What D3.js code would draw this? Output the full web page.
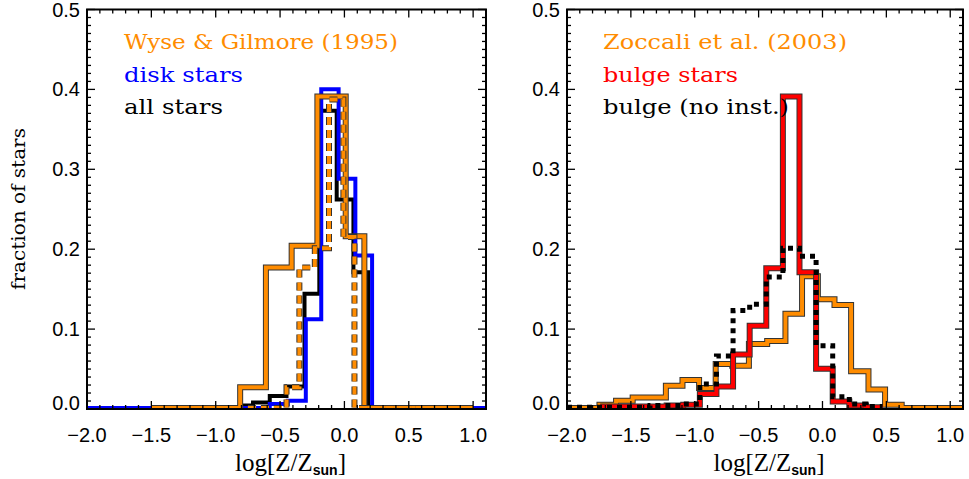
<!DOCTYPE html>
<html>
<head>
<meta charset="utf-8">
<script src="https://cdn.jsdelivr.net/npm/d3@7"></script>
<style>
  html, body { margin: 0; padding: 0; background: #fff; }
  svg { display: block; }
</style>
</head>
<body>
<svg id="chart" width="969" height="479"></svg>
<script>
// ---------------- data ----------------
const xTickValues = [-2.0, -1.5, -1.0, -0.5, 0.0, 0.5, 1.0];
const xTickLabels = ["\u22122.0", "\u22121.5", "\u22121.0", "\u22120.5", "0.0", "0.5", "1.0"];
const yTickValues = [0.0, 0.1, 0.2, 0.3, 0.4, 0.5];
const yTickLabels = ["0.0", "0.1", "0.2", "0.3", "0.4", "0.5"];

// Left panel: disk stars (blue)
const diskEdges  = [-2.0, -0.58, -0.44, -0.30, -0.18, -0.045, 0.085, 0.215, 1.1];
const diskValues = [0, 0.005, 0.009, 0.111, 0.399, 0.287, 0.191, 0];
// Left panel: all stars (black)
const allEdges  = [-2.0, -0.79, -0.71, -0.58, -0.45, -0.31, -0.195, -0.06, 0.07, 0.185, 1.1];
const allValues = [0, 0.003, 0.007, 0.015, 0.027, 0.143, 0.372, 0.261, 0.17, 0];
// Left panel: Wyse & Gilmore (1995), solid orange
const wgEdges  = [-1.5, -0.81, -0.61, -0.41, -0.21, 0.01, 0.155, 1.0];
const wgValues = [0, 0.026, 0.176, 0.203, 0.39, 0.215, 0];
// Left panel: Wyse & Gilmore (1995), dashed orange
const wgDashEdges  = [-0.75, -0.45, -0.35, -0.23, -0.12, -0.008, 0.078, 0.55];
const wgDashValues = [0, 0.026, 0.176, 0.2, 0.386, 0.214, 0];

// Right panel: Zoccali et al. (2003), solid orange
const zocEdges  = [-2.0, -1.746, -1.616, -1.486, -1.226, -1.096, -0.966, -0.836, -0.706, -0.576, -0.433, -0.29, -0.16, -0.036, 0.094, 0.224, 0.36, 0.49, 0.62, 1.1];
const zocValues = [0, 0.004, 0.009, 0.013, 0.028, 0.035, 0.025, 0.055, 0.053, 0.08, 0.084, 0.118, 0.165, 0.136, 0.129, 0.046, 0.023, 0.004, 0];
// Right panel: bulge stars (red)
const bulgeEdges  = [-1.74, -1.22, -1.09, -0.96, -0.83, -0.70, -0.57, -0.44, -0.31, -0.18, -0.05, 0.08, 0.21, 0.34, 0.47];
const bulgeValues = [0.002, 0.003, 0.004, 0.0175, 0.027, 0.067, 0.103, 0.175, 0.39, 0.17, 0.049, 0.008, 0.003, 0.001];
// Right panel: bulge, no instrumental error (black dotted)
const noInstEdges  = [-2.0, -1.35, -1.09, -0.96, -0.83, -0.70, -0.57, -0.44, -0.31, -0.18, -0.05, 0.08, 0.21, 0.34, 0.47];
const noInstValues = [0.001, 0.003, 0.005, 0.03, 0.065, 0.122, 0.13, 0.164, 0.2, 0.19, 0.078, 0.014, 0.005, 0.002];

const leftLegend  = [["Wyse & Gilmore (1995)", "#ff8c00"], ["disk stars", "#0000ff"], ["all stars", "#000000"]];
const rightLegend = [["Zoccali et al. (2003)", "#ff8c00"], ["bulge stars", "#ff0000"], ["bulge (no inst.)", "#000000"]];

// ---------------- drawing ----------------
(function () {
const svg = d3.select("#chart");
const plotTop = 9.5, plotBottom = 409;
const yScale = d3.scaleLinear().domain([0, 0.5]).range([plotBottom, plotTop]);

function stepPoints(edges, values) {
  const pts = [];
  for (let i = 0; i < values.length; i++) {
    pts.push([edges[i], values[i]]);
    pts.push([edges[i + 1], values[i]]);
  }
  return pts;
}

function panel(x0, x1) {
  const g = svg.append("g");
  const xScale = d3.scaleLinear().domain([-2.0, 1.1]).range([x0, x1]);
  const clip = "clip" + Math.round(x0);
  svg.append("clipPath").attr("id", clip).append("rect")
    .attr("x", x0).attr("y", plotTop).attr("width", x1 - x0).attr("height", plotBottom - plotTop + 1.5);
  const plot = g.append("g").attr("clip-path", `url(#${clip})`)
    .attr("transform", "translate(0,-1)");
  const line = d3.line().x(d => xScale(d[0])).y(d => yScale(d[1]));
  function hist(edges, values, color, width, opts = {}) {
    const pts = stepPoints(edges, values);
    if (opts.outline) {
      plot.append("path").attr("d", line(pts)).attr("fill", "none")
        .attr("stroke", "#333").attr("stroke-width", width + 2)
        .attr("stroke-dasharray", opts.dash || null)
        .attr("stroke-linejoin", "miter");
    }
    plot.append("path").attr("d", line(pts)).attr("fill", "none")
      .attr("stroke", color).attr("stroke-width", width)
      .attr("stroke-dasharray", opts.dash || null)
      .attr("stroke-linejoin", "miter");
  }
  const ax = g.append("g").attr("stroke", "#000").attr("stroke-width", 1.3);
  d3.range(-20, 12).forEach(i => {
    const v = i / 10;
    const major = i % 5 === 0;
    const len = major ? 8 : 4;
    const X = xScale(v);
    if (X < x0 - 0.1 || X > x1 + 0.1) return;
    ax.append("line").attr("x1", X).attr("x2", X).attr("y1", plotBottom).attr("y2", plotBottom - len);
    ax.append("line").attr("x1", X).attr("x2", X).attr("y1", plotTop).attr("y2", plotTop + len);
  });
  d3.range(0, 51).forEach(i => {
    const v = i / 100;
    const major = i % 10 === 0;
    const len = major ? 8 : 4;
    const Y = yScale(v);
    ax.append("line").attr("x1", x0).attr("x2", x0 + len).attr("y1", Y).attr("y2", Y);
    ax.append("line").attr("x1", x1).attr("x2", x1 - len).attr("y1", Y).attr("y2", Y);
  });
  xTickValues.forEach((v, i) => {
    g.append("text").attr("x", xScale(v)).attr("y", 442)
      .attr("text-anchor", "middle")
      .attr("font-family", "Liberation Sans, Arial, sans-serif")
      .attr("font-size", 20).text(xTickLabels[i]);
  });
  yTickValues.forEach((v, i) => {
    g.append("text").attr("x", x0 - 7).attr("y", yScale(v) + 7 - (i === 0 ? 6 : 0))
      .attr("text-anchor", "end")
      .attr("font-family", "Liberation Sans, Arial, sans-serif")
      .attr("font-size", 20).text(yTickLabels[i]);
  });
  const t = g.append("text").attr("x", (x0 + x1) / 2 + 4).attr("y", 471)
    .attr("text-anchor", "middle")
    .attr("font-family", "Liberation Serif, Times New Roman, serif")
    .attr("font-size", 25);
  t.append("tspan").text("log[Z/Z");
  t.append("tspan").attr("dy", 4).attr("font-size", 14).attr("font-weight", "bold")
    .attr("font-family", "Liberation Sans, Arial, sans-serif").text("sun");
  t.append("tspan").attr("dy", -4).text("]");
  return { g, plot, hist, xScale };
}

const L = panel(87, 486);
L.hist(allEdges, allValues, "#000000", 4);
L.hist(diskEdges, diskValues, "#0000ff", 4);
L.hist(wgEdges, wgValues, "#ff8c00", 4, { outline: true });
L.hist(wgDashEdges, wgDashValues, "#ff8c00", 4, { outline: true, dash: "8 5" });

const R = panel(567, 963);
R.hist(zocEdges, zocValues, "#ff8c00", 4, { outline: true });
R.hist(bulgeEdges, bulgeValues, "#ff0000", 4, { outline: true });
R.hist(noInstEdges, noInstValues, "#000000", 5, { dash: "5 5" });

[[87, 486], [567, 963]].forEach(([a, b]) => {
  svg.append("rect").attr("x", a).attr("y", plotTop).attr("width", b - a).attr("height", plotBottom - plotTop)
    .attr("fill", "none").attr("stroke", "#000").attr("stroke-width", 2);
});

function legend(items, x, widths) {
  const baselines = [49, 82, 114];
  items.forEach(([txt, col], i) => {
    svg.append("text").attr("x", x).attr("y", baselines[i])
      .attr("font-family", "DejaVu Serif, serif").attr("font-size", 20)
      .attr("fill", col)
      .attr("textLength", widths[i]).attr("lengthAdjust", "spacingAndGlyphs")
      .text(txt);
  });
}
legend(leftLegend, 124, [274, 119, 99]);
legend(rightLegend, 603, [244, 135, 186]);

svg.append("text")
  .attr("transform", "translate(25,209) rotate(-90)")
  .attr("text-anchor", "middle")
  .attr("font-family", "DejaVu Serif, serif").attr("font-size", 19)
  .attr("textLength", 162).attr("lengthAdjust", "spacingAndGlyphs")
  .text("fraction of stars");
})();
</script>
</body>
</html>
